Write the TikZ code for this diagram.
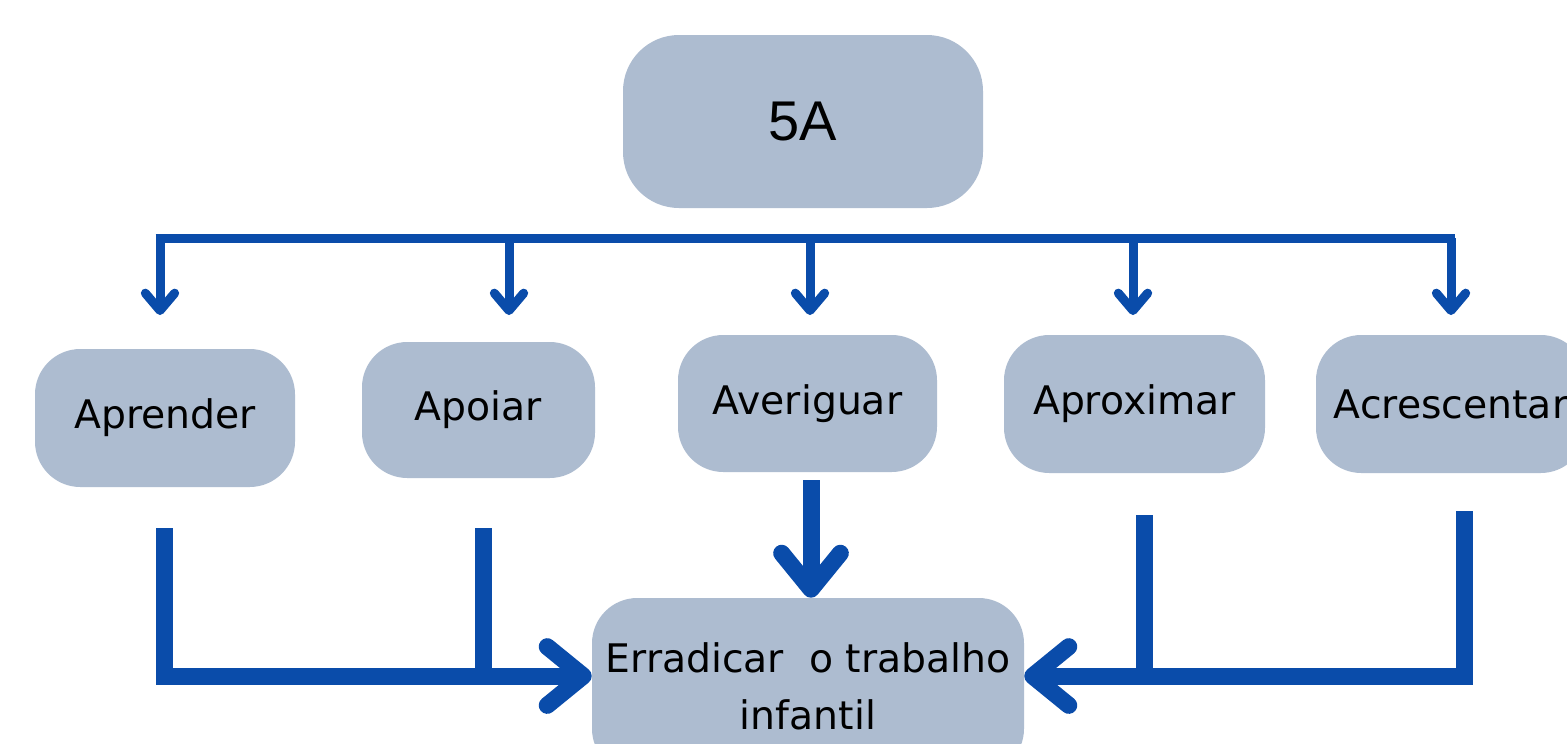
\documentclass[tikz,border=0pt]{standalone}
\usepackage{xcolor}
\usepackage{fontspec}
\setmainfont{DejaVu Sans}
\newfontfamily\titlefont{Liberation Sans}
\usetikzlibrary{arrows.meta}

\definecolor{boxfill}{RGB}{173,188,208}
\definecolor{linkblue}{RGB}{10,76,170}

\begin{document}
\begin{tikzpicture}[x=0.75pt,y=0.75pt,yscale=-1,xscale=1,
  box/.style={fill=boxfill, rounded corners=34pt, inner sep=0pt, align=center,
    font=\fontsize{29.5}{43}\selectfont},
  thinlink/.style={draw=linkblue, line width=6.75pt},
  thinarrow/.style={thinlink, -{Straight Barb[round,length=13pt,width=22pt]}},
  thicklink/.style={draw=linkblue, line width=12.75pt},
  thickarrow/.style={thicklink, -{Straight Barb[round,length=27pt,width=44pt]}}]
\fill[white] (0,0) rectangle (1567,743);
\useasboundingbox (0,0) rectangle (1567,743);

%Shape: Rounded Rectangle [id:top]
\node[box, rounded corners=42pt, minimum width=270pt, minimum height=129.75pt,
  font=\titlefont\fontsize{42}{48}\selectfont] (top) at (803,121.5) {5A};

% Text Node
\node[box, minimum width=195pt, minimum height=103.5pt] (aprender) at (165,418) {Aprender};
% Text Node
\node[box, minimum width=174.75pt, minimum height=102pt] (apoiar) at (478.5,410) {Apoiar};
% Text Node
\node[box, minimum width=194.25pt, minimum height=102.75pt] (averiguar) at (807.5,403.5) {Averiguar};
% Text Node
\node[box, minimum width=195.75pt, minimum height=103.5pt] (aproximar) at (1134.5,404) {Aproximar};
% Text Node
\node[box, minimum width=202.5pt, minimum height=103.5pt] (acrescentar) at (1451,404) {Acrescentar};
% Text Node
\node[box, minimum width=324pt, minimum height=132pt] (erradicar) at (808,686)
  {Erradicar\ \ o trabalho\\infantil};

%Straight Lines [id:bar]
\coordinate (barL) at (155.6,238);
\coordinate (barR) at (1455.4,238);
\draw[thinlink] (barL) -- (barR);
\foreach \x/\n in {160/1,509/2,810/3,1133/4,1451/5}{
  \coordinate (drop\n) at (\x,238);
  \coordinate (tip\n) at (\x,315);
  \draw[thinarrow] (drop\n) -- (tip\n);
}

%Straight Lines [id:bottom]
\coordinate (aprenderOut) at (164.5,528);
\coordinate (apoiarOut) at (483,528);
\coordinate (averiguarOut) at (811,480);
\coordinate (aproximarOut) at (1144,515);
\coordinate (acrescentarOut) at (1464,511);
\coordinate (leftIn) at ([yshift=-7.5pt]erradicar.west);
\coordinate (rightIn) at ([yshift=-7.5pt]erradicar.east);

\draw[thickarrow] (aprenderOut) |- (leftIn);
\draw[thicklink] (apoiarOut) -- (apoiarOut |- leftIn);
\draw[thickarrow] (averiguarOut) -- (averiguarOut |- erradicar.north);
\draw[thickarrow] (acrescentarOut) |- (rightIn);
\draw[thicklink] (aproximarOut) -- (aproximarOut |- rightIn);

\end{tikzpicture}
\end{document}
